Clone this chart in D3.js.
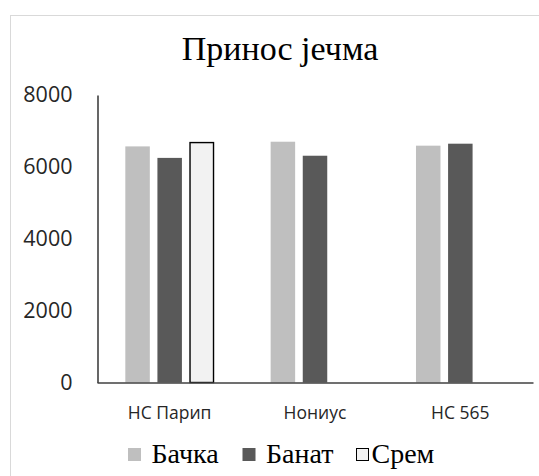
<!DOCTYPE html>
<html><head><meta charset="utf-8">
<script src="https://cdn.jsdelivr.net/npm/d3@7"></script>
<style>body{margin:0;background:#fff}svg{display:block}</style>
</head><body>
<script>
const categories = ["НС Парип", "Нониус", "НС 565"];
const seriesNames = ["Бачка", "Банат", "Срем"];
const bachka = [6570, 6700, 6590];
const banat = [6250, 6310, 6645];
const srem = [6690, null, null];
const yTicks = [0, 2000, 4000, 6000, 8000];
const title = "Принос јечма";

const seriesValues = [bachka, banat, srem];
const fills = ["#bfbfbf", "#595959", "#f2f2f2"];
const strokes = ["none", "none", "#000"];

const W = 539, H = 476;
const svg = d3.select("body").append("svg").attr("width", W).attr("height", H);

svg.append("rect").attr("x", 10.5).attr("y", 15.5).attr("width", 560).attr("height", 500)
  .attr("fill", "#fff").attr("stroke", "#d9d9d9").attr("stroke-width", 1);

const x0 = d3.scaleBand().domain(categories).range([97, 533]).padding(0);
const x1 = d3.scaleBand().domain(seriesNames).range([0, x0.bandwidth()])
  .paddingInner(0.237).paddingOuter(0.882);
const y = d3.scaleLinear().domain([0, 8000]).range([382.5, 95]);

svg.append("text").attr("x", 280).attr("y", 60).attr("text-anchor", "middle")
  .attr("font-family", "Liberation Serif, serif").attr("font-size", 34).attr("fill", "#000")
  .text(title);

// bars
const data = [];
categories.forEach((c, i) => seriesNames.forEach((s, j) => {
  const v = seriesValues[j][i];
  if (v != null) data.push({c, s, v, j});
}));
svg.append("g").selectAll("rect").data(data).join("rect")
  .attr("x", d => x0(d.c) + x1(d.s) + (d.j === 2 ? 0.5 : 0))
  .attr("y", d => y(d.v) + (d.j === 2 ? 0.5 : 0))
  .attr("width", d => x1.bandwidth() - (d.j === 2 ? 1 : 0))
  .attr("height", d => y(0) - y(d.v) - (d.j === 2 ? 0.5 : 0))
  .attr("fill", d => fills[d.j])
  .attr("stroke", d => strokes[d.j])
  .attr("stroke-width", 1.4);

// y axis
const yAxis = d3.axisLeft(y).tickValues(yTicks).tickSize(0).tickPadding(25).tickFormat(d3.format("d"));
const gy = svg.append("g").attr("transform", "translate(97.5,0)").call(yAxis);
gy.select(".domain").attr("stroke", "#404040").attr("stroke-width", 1.6);
gy.selectAll("text").attr("font-family", "Open Sans, sans-serif").attr("font-size", 21.5).attr("fill", "#262626");

// x axis
const xAxis = d3.axisBottom(x0).tickSize(0).tickPadding(24);
const gx = svg.append("g").attr("transform", "translate(0,382.5)").call(xAxis);
gx.select(".domain").attr("stroke", "#404040").attr("stroke-width", 1.6);
gx.selectAll("text").attr("font-family", "Open Sans, sans-serif").attr("font-size", 17.5).attr("fill", "#262626");

// legend
const legendX = [128, 242.5, 356];
const lg = svg.append("g").selectAll("g").data(seriesNames).join("g")
  .attr("transform", (d, i) => `translate(${legendX[i]},0)`);
lg.append("rect").attr("x", (d, i) => i === 2 ? 0.5 : 0).attr("y", (d, i) => i === 2 ? 448.5 : 448)
  .attr("width", (d, i) => i === 2 ? 12 : 13).attr("height", (d, i) => i === 2 ? 12 : 13)
  .attr("fill", (d, i) => fills[i]).attr("stroke", (d, i) => strokes[i]).attr("stroke-width", 1);
lg.append("text").attr("x", (d, i) => i === 2 ? 15.5 : 23.5).attr("y", 463)
  .attr("font-family", "Liberation Serif, serif").attr("font-size", 28).attr("fill", "#000")
  .text(d => d);
</script>
</body></html>
